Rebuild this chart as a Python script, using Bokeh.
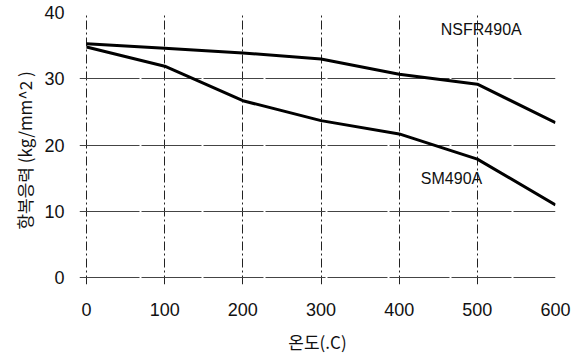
from bokeh.plotting import figure
from bokeh.models import Range1d, FixedTicker, ColumnDataSource
from bokeh.core.properties import value
from bokeh.embed import file_html
from bokeh.resources import INLINE

temps = [0, 100, 200, 300, 400, 500, 600]
nsfr490a = [35.3, 34.6, 33.9, 33.0, 30.7, 29.2, 23.4]
sm490a = [34.8, 31.9, 26.7, 23.7, 21.7, 17.9, 11.0]
x_ticks = [0, 100, 200, 300, 400, 500, 600]
y_ticks = [0, 10, 20, 30, 40]
labels = ["NSFR490A", "SM490A"]
label_x = [505, 467]
label_y = [37.4, 15.0]

p = figure(width=573, height=358, output_backend="svg", toolbar_location=None,
           x_range=Range1d(-9, 600), y_range=Range1d(-1, 40),
           min_border_left=79, min_border_right=18, min_border_top=12, min_border_bottom=74)
p.outline_line_color = None
p.background_fill_color = "white"
p.border_fill_color = "white"

p.line(temps, nsfr490a, line_color="black", line_width=3)
p.line(temps, sm490a, line_color="black", line_width=3)

src = ColumnDataSource(dict(x=label_x, y=label_y, t=labels))
p.text("x", "y", "t", source=src, text_font=value("Liberation Sans"), text_font_size="16px",
       text_align="center", text_baseline="middle", text_color="#111111")

p.xaxis.ticker = FixedTicker(ticks=x_ticks)
p.yaxis.ticker = FixedTicker(ticks=y_ticks)
for ax in (p.xaxis[0], p.yaxis[0]):
    ax.axis_line_color = None
    ax.major_tick_line_color = None
    ax.minor_tick_line_color = None
    ax.major_label_text_font = "Liberation Sans"
    ax.major_label_text_font_size = "18px"
    ax.major_label_text_color = "#111111"
    ax.axis_label_text_font = "Noto Sans CJK KR"
    ax.axis_label_text_font_size = "17px"
    ax.axis_label_text_font_style = "normal"
    ax.axis_label_text_color = "#111111"
p.xaxis.major_label_standoff = 12
p.yaxis.major_label_standoff = 9
p.xaxis.axis_label = "온도(.C)"
p.yaxis.axis_label = "항복응력  (kg/mm^2 )"
p.xaxis.axis_label_standoff = 10
p.yaxis.axis_label_standoff = 4

p.xgrid.ticker = FixedTicker(ticks=x_ticks)
p.ygrid.ticker = FixedTicker(ticks=y_ticks)
p.xgrid.grid_line_color = "#222222"
p.xgrid.grid_line_dash = "9 3 2 3"
p.xgrid.grid_line_width = 1
p.ygrid.grid_line_color = "#444444"
p.ygrid.grid_line_dash = "60 2"
p.ygrid.grid_line_width = 1

open("out.html", "w").write(file_html(p, INLINE))
